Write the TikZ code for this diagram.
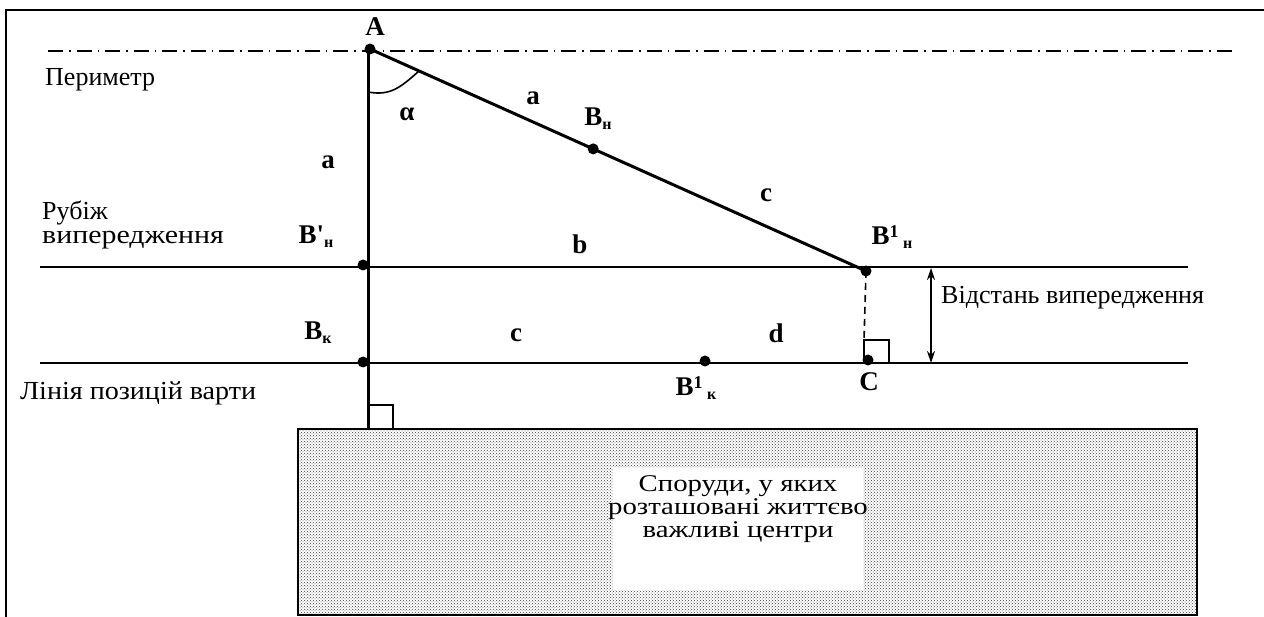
\documentclass[tikz,border=0pt]{standalone}
\usepackage{fontspec}
\usepackage{graphicx}
\setmainfont{Liberation Serif}
\newfontfamily\noligs{Liberation Serif}[Ligatures=TeXOff]
\usetikzlibrary{patterns,arrows.meta,calc}
\newcommand\lsub[1]{\raisebox{-0.3ex}{\fontsize{16}{16}\selectfont #1}}
\newcommand\lsupone{\raisebox{0.55ex}{\fontsize{18}{18}\selectfont 1}}
\newcommand\wline[1]{\scalebox{1.2}[1]{#1}}
\begin{document}
\begin{tikzpicture}[x=1pt,y=-1pt,
  lbl/.style={font=\fontsize{27}{27}\selectfont\bfseries, inner sep=0pt},
  txt/.style={font=\fontsize{26}{26}\selectfont, inner sep=0pt, anchor=west, align=left},
  dotnode/.style={circle, fill=black, inner sep=0pt, minimum size=11pt},
  heavy/.style={line width=3pt},
  guide/.style={line width=1.6pt},
  building/.style={draw, line width=2.6pt, pattern=crosshatch dots, pattern color=black!75, inner sep=0pt, minimum width=899pt, minimum height=186pt},
  whitebox/.style={fill=white, inner sep=0pt, minimum width=250pt, minimum height=122pt}]
\useasboundingbox (0,0) rectangle (1264,617);
% frame
\draw[line width=2.2pt] (6,617) -- (6,10) -- (1264,10);
% perimeter dash-dot
\coordinate (pl) at (48,51);
\coordinate (pr) at (1236,51);
\draw[line width=1.8pt, dash pattern=on 15pt off 6pt on 1.5pt off 6pt] (pl) -- (pr);
% guide lines
\coordinate (r1l) at (40,267);
\coordinate (r1r) at (1188,267);
\coordinate (r2l) at (40,363);
\coordinate (r2r) at (1188,363);
\draw[guide] (r1l) -- (r1r);
\draw[guide] (r2l) -- (r2r);
% building
\node[building] (bld) at (747.5,522) {};
\node[whitebox] (wbox) at (738,529) {};
\node[font=\fontsize{24}{23}\selectfont, align=center, inner sep=0pt] (btext) at (738,509)
  {\wline{Споруди, у яких}\\\wline{розташовані життєво}\\\wline{важливі центри}};
% points
\node[dotnode] (A) at (370,49) {};
\node[dotnode] (B1n) at (866,271) {};
\coordinate (Atop) at (368,49);
\coordinate (Abase) at (368,429);
\draw[heavy] (Atop) -- (Abase);
\draw[heavy] (A.center) -- (B1n.center);
\node[dotnode] (Bn) at ($(A)!0.45!(B1n)$) {};
\node[dotnode] (Bpn) at (363,265) {};
\node[dotnode] (Bk) at (363,362) {};
\node[dotnode] (B1k) at (705,361) {};
\node[dotnode] (C) at (868,360) {};
% angle arc
\coordinate (arcs) at (368,92);
\coordinate (arce) at (419,71);
\draw[line width=1.6pt] (arcs) .. controls (390,96) and (400,88) .. (arce);
% right angle squares
\draw[line width=1.6pt] (368,405) rectangle (393,429);
\draw[line width=1.6pt] (864,340) rectangle (889,363);
% dashed
\coordinate (Csq) at (864,340);
\draw[line width=1.6pt, dash pattern=on 7pt off 5pt] (B1n.center) -- (Csq);
% distance arrow
\coordinate (d1) at (931,268);
\coordinate (d2) at (931,363);
\draw[line width=1.6pt, {Stealth[length=12pt,width=8pt]}-{Stealth[length=12pt,width=8pt]}] (d1) -- (d2);
% texts
\node[txt] (tper) at (45,80) {Периметр};
\node[txt, anchor=west] (trub) at (42,225) {Рубіж\\[-2pt]\scalebox{1.15}[1]{випередження}};
\node[txt] (tlin) at (20,393) {\scalebox{1.08}[1]{Лінія позицій варти}};
\node[txt] (tdist) at (941,298) {Відстань випередження};
% labels
\node[lbl] (lA) at (375,27) {A};
\node[lbl] (la1) at (328,162) {a};
\node[lbl] (lalpha) at (407,114) {α};
\node[lbl] (la2) at (533,98) {a};
\node[lbl] (lBn) at (598,119) {B\lsub{н}};
\node[lbl] (lc1) at (766,195) {c};
\node[lbl] (lBpn) at (316,237) {B{\noligs\bfseries '}\lsub{н}};
\node[lbl] (lb) at (580,244) {b};
\node[lbl] (lB1n) at (892,237) {B\lsupone\,\lsub{н}};
\node[lbl] (lBk) at (318,333) {B\lsub{к}};
\node[lbl] (lc2) at (516,335) {c};
\node[lbl] (ld) at (776,333) {d};
\node[lbl] (lB1k) at (696,388) {B\lsupone\,\lsub{к}};
\node[lbl] (lC) at (869,382) {C};
\end{tikzpicture}
\end{document}
